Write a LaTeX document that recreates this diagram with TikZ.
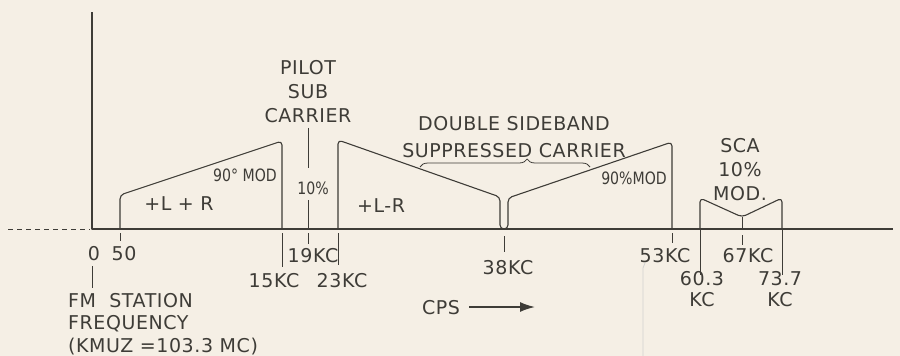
\documentclass[tikz,border=0pt]{standalone}
\usepackage{fontspec}
\setmainfont[LetterSpace=3]{DejaVu Sans}
\newfontfamily\narrowfont[FakeStretch=0.83]{DejaVu Sans}
\usetikzlibrary{arrows.meta,decorations.pathreplacing}
\definecolor{paper}{RGB}{245,239,229}
\definecolor{ink}{RGB}{62,60,55}

\begin{document}
\begin{tikzpicture}[x=1pt,y=-1pt,line join=round,
  lbl/.style={inner sep=0pt,text height=14pt,text depth=0pt,font=\fontsize{19}{22}\selectfont,text=ink},
  small/.style={inner sep=0pt,text height=12.5pt,text depth=0pt,font=\narrowfont\fontsize{17}{20}\selectfont,text=ink},
  blk/.style={inner sep=0pt,align=center,font=\fontsize{19}{24}\selectfont,text=ink},
  band/.style={draw=ink,line width=1.1pt,rounded corners=4pt},
  tick/.style={draw=ink,line width=1pt}]
\useasboundingbox(0,0)rectangle(900,356);\fill[paper](0,0)rectangle(900,356);
% axes
\coordinate(a0)at(92,229);\coordinate(a19)at(308,229);\coordinate(a38)at(504,229);
\draw[ink,line width=1.4pt](92,12)--(a0)--(893,229);
\draw[ink,line width=1pt,dash pattern=on 5pt off 4pt](8,229)--(90,229);
% bands
\draw[band](120,229)--(120,195)--(282,141)--(282,229);
\draw[band](338,229)--(338,140)--(500,197)--(500,229)--(508,229)--(508,198)--(672,142)--(672,229);
\draw[band](700,229)--(700,198)--(742,217)--(782,198)--(782,229);\draw[tick](742,217)--(742,229);
\node[lbl](lr)at(179,203){+L + R};\node[small](mod1)at(245,175){90° MOD};
\node[lbl](ldr)at(381,205){+L-R};\node[small](mod2)at(634,178){90\%MOD};
% pilot
\node[blk,anchor=north](pilot)at(308,60){PILOT\\SUB\\CARRIER};
\node[small](pct)at(313,188){10\%};
\draw[tick]([yshift=-5pt]pilot.south)--([yshift=14pt,xshift=-5pt]pct.north);
\draw[tick]([yshift=-6pt,xshift=-5pt]pct.south)--(a19);
% headings
\node[blk,anchor=north,font=\fontsize{19}{27}\selectfont](dsb)at(514,116){DOUBLE SIDEBAND\\SUPPRESSED CARRIER};
\draw[ink,line width=.8pt,decorate,decoration={brace,amplitude=8pt,aspect=.63}](420,167)--(590,167);
\node[blk,anchor=north](sca)at(740,138){SCA\\10\%\\MOD.};
% ticks and values
\node[lbl](zero)at(94,253){0};\node[lbl](fifty)at(124,253){50};
\draw[tick](120,233)--(120,241);
\draw[tick]([yshift=-6pt,xshift=-2pt]zero.south)--++(0,22);
\node[blk,anchor=north west,align=left,font=\fontsize{19}{22.5}\selectfont](fm)at(68,293){FM\ \ STATION\\FREQUENCY\\(KMUZ =103.3 MC)};
\node[lbl](kc15)at(274,280){15KC};\draw[tick](282,233)--(282,267);
\node[lbl](kc19)at(313,255){19KC};\draw[tick](a19)++(0,4)--++(0,11);
\node[lbl](kc23)at(342,280){23KC};\draw[tick](338,233)--(338,265);
\node[lbl](kc38)at(508,267){38KC};\draw[tick](a38)++(0,7)--++(0,16);
\node[lbl](kc53)at(665,255){53KC};\draw[tick](672,233)--(672,243);
\node[lbl](kc67)at(748,255){67KC};\draw[tick](742,235)--(742,245);
\node[blk,anchor=north,font=\fontsize{19}{21}\selectfont](kc60)at(702,271){60.3\\KC};\draw[tick](700,229)--(700,275);
\node[blk,anchor=north,font=\fontsize{19}{21}\selectfont](kc73)at(780,271){73.7\\KC};\draw[tick](782,229)--(782,275);
% direction
\node[lbl](cps)at(441,307){CPS};\coordinate(cpsend)at(535,307);
\draw[ink,line width=1.6pt,-{Latex[length=15pt,width=10pt]}]([xshift=9pt]cps.east)--(cpsend);
\draw[black!18,line width=.8pt](645,263)--(643,268)--(643,356);
\end{tikzpicture}
\end{document}
